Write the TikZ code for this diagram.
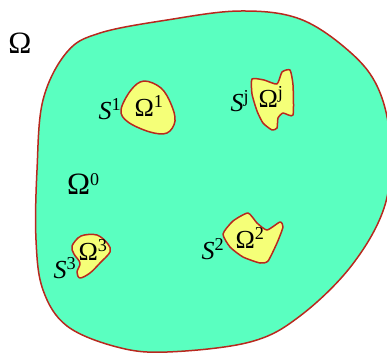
\documentclass[tikz,border=0pt]{standalone}
\usepackage{fontspec}
\setmainfont{Liberation Serif}
\definecolor{domgreen}{RGB}{90,255,192}
\definecolor{incyellow}{RGB}{245,255,120}
\definecolor{edgered}{RGB}{185,40,30}
\tikzset{
  region/.style={draw=edgered,line width=1.5pt,line join=round},
  lab/.style={font=\fontsize{26}{30}\selectfont,inner sep=0pt},
  slab/.style={font=\fontsize{26}{30}\selectfont\itshape,inner sep=0pt},
  biglab/.style={font=\fontsize{31}{36}\selectfont,inner sep=0pt}
}
\begin{document}
\begin{tikzpicture}[x=1pt,y=-1pt]
  \useasboundingbox (0,0) rectangle (387,354);
  % outer domain
  \draw[region,fill=domgreen] plot[smooth cycle,tension=0.6] coordinates {
    (100,33) (167,20) (240,11) (300,19) (350,52) (378,88) (390,140)
    (385,205) (352,265) (300,316) (250,342) (167,352) (117,347)
    (67,326) (43,290) (36,240) (37,170) (43,100) (67,52)};
  % inclusions
  \draw[region,fill=incyellow] plot[smooth cycle,tension=0.6] coordinates {
    (121,110) (131,90) (144,81) (161,88) (171,104) (175,121) (167,133)
    (150,132) (128,122)};
  \draw[region,fill=incyellow] plot[smooth cycle,tension=0.35] coordinates {
    (252,79) (264,80) (277,84) (282,72) (290,70) (293,85) (293,115)
    (283,113) (278,118) (277,128) (272,130) (263,123) (257,111) (252,94)};
  \draw[region,fill=incyellow] plot[smooth cycle,tension=0.35] coordinates {
    (223,234) (233,221) (248,213) (257,223) (267,230) (280,222) (283,227)
    (277,243) (268,261) (260,263) (243,257) (230,247)};
  \draw[region,fill=incyellow] plot[smooth cycle,tension=0.55] coordinates {
    (72,246) (81,236) (97,235) (108,244) (110,252) (100,263) (90,273)
    (80,278) (77,272) (80,263) (74,254)};
  % labels
  \node[biglab] (omega) at (20,43) {Ω};
  \node[biglab,anchor=west] (omega0) at (67,184) {Ω\textsuperscript{\fontsize{18}{20}\selectfont 0}};
  \node[lab] (omega1) at (149,106) {Ω\textsuperscript{1}};
  \node[slab] (s1) at (110,109) {S\textsuperscript{\upshape 1}};
  \node[lab] (omegaj) at (271,97) {Ω\textsuperscript{j}};
  \node[slab] (sj) at (240,101) {S\textsuperscript{\upshape j}};
  \node[lab] (omega2) at (250,238) {Ω\textsuperscript{2}};
  \node[slab] (s2) at (213,249) {S\textsuperscript{\upshape 2}};
  \node[lab] (omega3) at (93,250) {Ω\textsuperscript{3}};
  \node[slab] (s3) at (65,268) {S\textsuperscript{\upshape 3}};
\end{tikzpicture}
\end{document}
